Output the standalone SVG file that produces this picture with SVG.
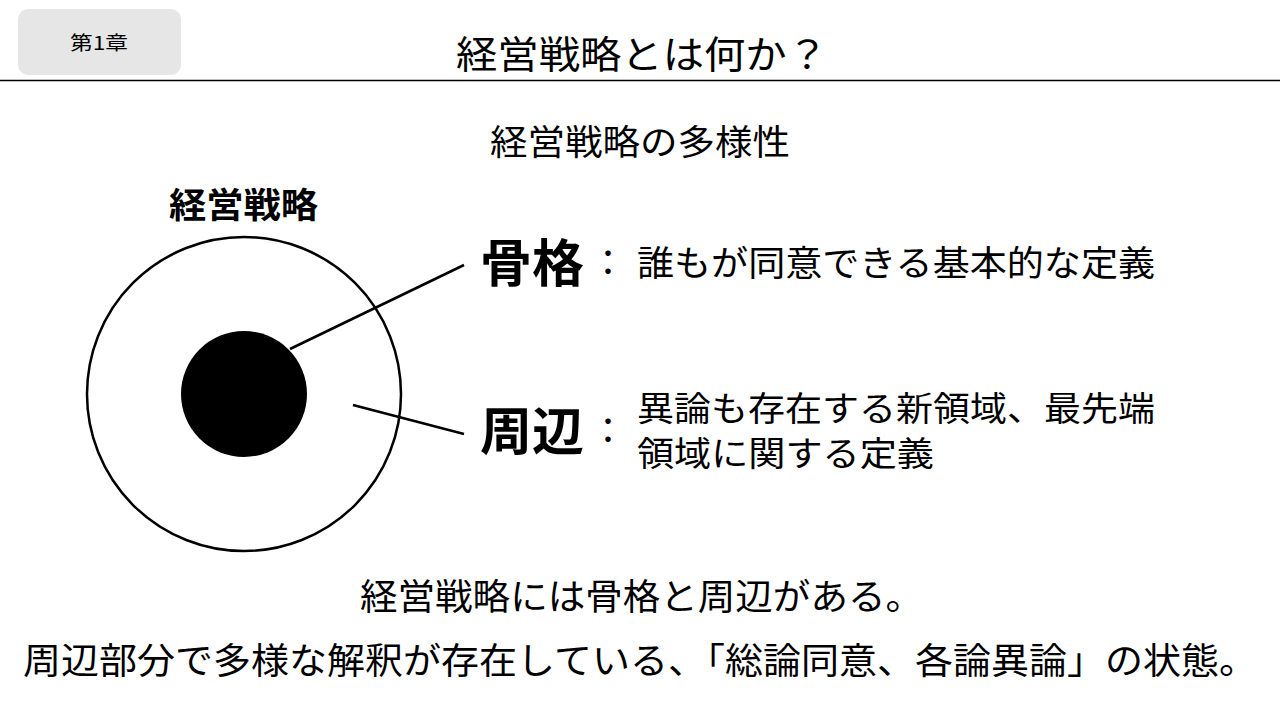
<svg xmlns="http://www.w3.org/2000/svg" width="1280" height="720" viewBox="0 0 1280 720">
<style>
text{font-family:"Noto Sans CJK JP","Noto Sans CJK SC",sans-serif;fill:#000}
.b{font-weight:bold}
.conn{stroke:#000;stroke-width:2.5;fill:none}
</style>
<rect width="1280" height="720" fill="#fff"/>
<g id="header">
<rect x="18" y="9" width="163" height="66" rx="10" fill="#e6e6e6"/>
<text x="70" y="50" font-size="19" textLength="58" lengthAdjust="spacingAndGlyphs">第1章</text>
<text x="456" y="68" font-size="38" textLength="372" lengthAdjust="spacingAndGlyphs">経営戦略とは何か？</text>
<line x1="0" y1="80.5" x2="1280" y2="80.5" stroke="#000" stroke-width="1.5"/>
</g>
<text x="490" y="155" font-size="35" textLength="300" lengthAdjust="spacingAndGlyphs">経営戦略の多様性</text>
<g id="strategy">
<text x="169" y="218" class="b" font-size="35" textLength="149" lengthAdjust="spacingAndGlyphs">経営戦略</text>
<circle cx="244" cy="394" r="157" fill="#fff" stroke="#000" stroke-width="2.5"/>
<circle cx="244" cy="394" r="63" fill="#000"/>
</g>
<g id="connectors">
<line class="conn" x1="290" y1="349" x2="464" y2="265"/>
<line class="conn" x1="353" y1="405" x2="464" y2="434"/>
</g>
<g id="core">
<text x="480" y="282" class="b" font-size="51" textLength="104" lengthAdjust="spacingAndGlyphs">骨格</text>
<text x="590" y="276" font-size="36">：</text>
<text x="637" y="276" font-size="35" textLength="518" lengthAdjust="spacingAndGlyphs">誰もが同意できる基本的な定義</text>
</g>
<g id="periphery">
<text x="480" y="450" class="b" font-size="51" textLength="104" lengthAdjust="spacingAndGlyphs">周辺</text>
<text x="590" y="444" font-size="36">：</text>
<text x="637" y="421" font-size="34" textLength="518" lengthAdjust="spacingAndGlyphs">異論も存在する新領域、最先端</text>
<text x="637" y="466" font-size="34" textLength="297" lengthAdjust="spacingAndGlyphs">領域に関する定義</text>
</g>
<text x="360" y="610" font-size="36" textLength="563" lengthAdjust="spacingAndGlyphs">経営戦略には骨格と周辺がある。</text>
<text x="23" y="674" font-size="36.5" textLength="1234" lengthAdjust="spacingAndGlyphs">周辺部分で多様な解釈が存在している、「総論同意、各論異論」の状態。</text>
</svg>
